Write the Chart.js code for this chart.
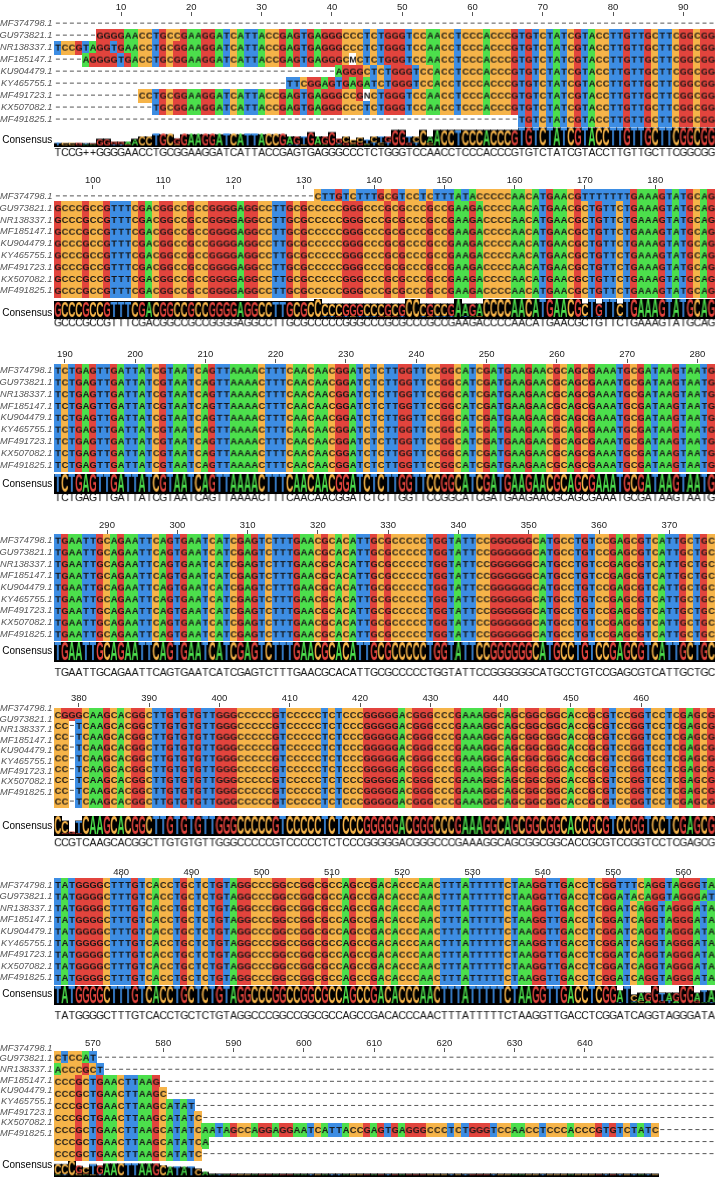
<!DOCTYPE html>
<html><head><meta charset="utf-8">
<script src="https://cdn.jsdelivr.net/npm/chart.js@4.4.1/dist/chart.umd.min.js"></script>
<style>
html,body{margin:0;padding:0;background:#fff;width:720px;height:1191px;overflow:hidden;position:relative;}
.blk{position:absolute;left:0;width:720px;}
canvas{display:block;}
</style></head><body>
<script>
// ---------------- DATA ----------------
const BLOCK_LEN = 94;
const SEQ_NAMES = ['MF374798.1','GU973821.1','NR138337.1','MF185147.1','KU904479.1','KY465755.1','MF491723.1','KX507082.1','MF491825.1'];
const RULER_TICKS = [10,20,30,40,50,60,70,80,90,100,110,120,130,140,150,160,170,180,190,200,210,220,230,240,250,260,270,280,290,300,310,320,330,340,350,360,370,380,390,400,410,420,430,440,450,460,480,490,500,510,520,530,540,550,560,570,580,590,600,610,620,630,640];

const gap = n => '-'.repeat(n);
const B1_MID  = 'TCTGGGTCCAACCTCCCACCCG';
const B1_TAIL = 'TGTCTATCGTACCTTGTTGCTTCGGCGG';
const B2_ALL  = 'GCCCGCCGTTTCGACGGCCGCCGGGGAGGCCTTGCGCCCCCGGGCCCGCGCCCGCCGAAGACCCCAACATGAACGCTGTTCTGAAAGTATGCAG';
const B3_ALL  = 'TCTGAGTTGATTATCGTAATCAGTTAAAACTTTCAACAACGGATCTCTTGGTTCCGGCATCGATGAAGAACGCAGCGAAATGCGATAAGTAATG';
const B4_ALL  = 'TGAATTGCAGAATTCAGTGAATCATCGAGTCTTTGAACGCACATTGCGCCCCCTGGTATTCCGGGGGGCATGCCTGTCCGAGCGTCATTGCTGC';
const B5_ALL  = 'CC-TCAAGCACGGCTTGTGTGTTGGGCCCCCGTCCCCCTCTCCCGGGGGACGGGCCCGAAAGGCAGCGGCGGCACCGCGTCCGGTCCTCGAGCG';
const B6_HEAD = 'TATGGGGCTTTGTCACCTGCTCTGTAGGCCCGGCCGGCGCCAGCCGACACCCAACTTTATTTTTCTAAGGTTGACCTCGG';
const B6_END  = 'ATCAGGTAGGGATA';

const MF374798 = [gap(94), gap(37)+'CTTGTCTTTGCGTCCTCTTTATACCCCCAACATGAACGTTTTTTTGAAAGTATGCAG', B3_ALL, B4_ALL,
  'CGGGCAAGCACGGCTTGTGTGTTGGGCCCCCGTCCCCCTCTCCCGGGGGACGGGCCCGAAAGGCAGCGGCGGCACCGCGTCCGGTCCTCGAGCG', B6_HEAD+'TTTCAGGTAGGGTA', 'CTCCAT'];
const GU973821 = [gap(6)+'GGGGAACCTGCCGAAGGATCATTACCGAGTGAGGGCCC'+B1_MID+B1_TAIL, B2_ALL, B3_ALL, B4_ALL, B5_ALL, B6_HEAD+'ATACAGGTAGGGAT', 'ACCCGCT'];
const NR138337 = ['TCCGTAGGTGAACCTGCGGAAGGATCATTACCGAGTGAGGGCCC'+B1_MID+B1_TAIL, B2_ALL, B3_ALL, B4_ALL, B5_ALL, B6_HEAD+B6_END, 'CCCGCTGAACTTAAG'];
const MF185147 = [gap(4)+'AGGGGTGACCTGCGGAAGGATCATTACCGAGTGAGGGCMC'+B1_MID+B1_TAIL, B2_ALL, B3_ALL, B4_ALL, B5_ALL, B6_HEAD+B6_END, 'CCCGCTGAACTTAAGC'];
const KU904479 = [gap(40)+'AGGGCTCTGGGTCCACCTCCCACCCG'+B1_TAIL, B2_ALL, B3_ALL, B4_ALL, B5_ALL, B6_HEAD+B6_END, 'CCCGCTGAACTTAAGCATAT'];
const KY465755 = [gap(33)+'TTCGGAGTGAGATCTGGGTCCACCTCCCACCCG'+B1_TAIL, B2_ALL, B3_ALL, B4_ALL, B5_ALL, B6_HEAD+B6_END, 'CCCGCTGAACTTAAGCATATC'];
const MF491723 = [gap(12)+'CCTGCGGAAGGATCATTACCGAGTGAGGGCCGNCTGGGTCCAACCTCCCACCCG'+B1_TAIL, B2_ALL, B3_ALL, B4_ALL, B5_ALL, B6_HEAD+B6_END,
  'CCCGCTGAACTTAAGCATATCAATAGCCAGGAGGAATCATTACCGAGTGAGGGCCCTCTGGGTCCAACCTCCCACCCGTGTCTATC'];
const KX507082 = [gap(14)+'TGCGGAAGGATCATTACCGAGTGAGGGCCC'+B1_MID+B1_TAIL, B2_ALL, B3_ALL, B4_ALL, B5_ALL, B6_HEAD+B6_END, 'CCCGCTGAACTTAAGCATATCA'];
const MF491825 = [gap(66)+B1_TAIL, B2_ALL, B3_ALL, B4_ALL, B5_ALL, B6_HEAD+B6_END, 'CCCGCTGAACTTAAGCATATC'];
const ALL_SEQS = [MF374798, GU973821, NR138337, MF185147, KU904479, KY465755, MF491723, KX507082, MF491825];

const CONSENSUS_TEXT = [
  'TCCG++GGGGAACCTGCGGAAGGATCATTACCGAGTGAGGGCCCTCTGGGTCCAACCTCCCACCCGTGTCTATCGTACCTTGTTGCTTCGGCGG',
  B2_ALL, B3_ALL, B4_ALL,
  'CCGTCAAGCACGGCTTGTGTGTTGGGCCCCCGTCCCCCTCTCCCGGGGGACGGGCCCGAAAGGCAGCGGCGGCACCGCGTCCGGTCCTCGAGCG',
  B6_HEAD+B6_END, ''];

// ---------------- STYLE / LAYOUT ----------------
const BASE_COLORS = {A:'#4CDF4C', C:'#F6B449', G:'#E2443D', T:'#3D8DE3'};
const FONT = '"Liberation Sans", Arial, Helvetica, sans-serif';
const LAYOUT = [
 {top:0,    h:173, axisH:16, tickPad:-1, rowY0:24,   pitch:12.6,  labY0:24,   labPitch:12.6,  logoTop:131.5, logoH:20, consY:147, textY:160},
 {top:173,  h:174, axisH:16, tickPad:-1, rowY0:23.7, pitch:12.4,  labY0:23.7, labPitch:12.4,  logoTop:132,   logoH:18, consY:146, textY:157},
 {top:347,  h:171, axisH:16, tickPad:-1, rowY0:24,   pitch:12.4,  labY0:24,   labPitch:12.4,  logoTop:133,   logoH:18, consY:143, textY:158},
 {top:518,  h:173, axisH:16, tickPad:-1, rowY0:23,   pitch:12.3,  labY0:23,   labPitch:12.3,  logoTop:130,   logoH:18, consY:139, textY:162},
 {top:691,  h:174, axisH:16, tickPad:-1, rowY0:24,   pitch:11.35, labY0:18,   labPitch:10.95, logoTop:131,   logoH:18, consY:141, textY:159},
 {top:865,  h:171, axisH:14, tickPad:-3, rowY0:20.3, pitch:12.2,  labY0:20.3, labPitch:12.2,  logoTop:127,   logoH:17, consY:135, textY:158},
 {top:1036, h:155, axisH:16, tickPad:-1, rowY0:22,   pitch:12.75, labY0:12,   labPitch:11.25, logoTop:131,   logoH:15, consY:136, textY:null}
];
const CW = 8;

function makeCanvas(w,h){const c=document.createElement('canvas');c.width=w;c.height=h;return c;}
const cache = {};
function cellSprite(ch, h){
  const key = ch+'|'+h; if (cache[key]) return cache[key];
  const c = makeCanvas(CW, h), g = c.getContext('2d');
  if (ch === '-') {
    g.fillStyle = '#555'; g.fillRect(2, Math.round(h/2)-1, 4, 1);
  } else {
    g.fillStyle = BASE_COLORS[ch] || '#ffffff'; g.fillRect(0,0,CW,h);
    g.fillStyle = '#151515'; g.font = 'bold 9.3px '+FONT; g.textAlign='center'; g.textBaseline='middle';
    g.fillText(ch, CW/2, h/2+0.5);
  }
  cache[key] = c; return c;
}
function textSprite(ch){
  const key = 'txt|'+ch; if (cache[key]) return cache[key];
  const c = makeCanvas(CW, 14), g = c.getContext('2d');
  g.fillStyle = '#111'; g.font = '10.5px '+FONT; g.textAlign='center'; g.textBaseline='middle';
  g.fillText(ch, CW/2, 7.5);
  cache[key] = c; return c;
}
function drawStretched(g, ch, x0, y0, w, h, color){
  g.save(); g.font = 'bold 40px '+FONT; g.textAlign='left'; g.textBaseline='alphabetic';
  const m = g.measureText(ch);
  const gl = m.actualBoundingBoxLeft, gr = m.actualBoundingBoxRight, ga = m.actualBoundingBoxAscent, gd = m.actualBoundingBoxDescent;
  g.translate(x0, y0); g.scale(w/(gl+gr), h/(ga+gd)); g.fillStyle = color; g.fillText(ch, gl, ga); g.restore();
}
function logoSprite(colChars, logoH){
  const counts = {A:0,C:0,G:0,T:0}; let n = 0;
  colChars.forEach(ch => { if (counts[ch] !== undefined) { counts[ch]++; n++; } });
  const c = makeCanvas(CW, Math.ceil(logoH)+2), g = c.getContext('2d');
  if (n === 0) return c;
  let H = 0; Object.keys(counts).forEach(k => { if (counts[k]) { const p = counts[k]/n; H -= p*Math.log2(p); } });
  const colH = logoH * (n/9) * ((2-H)/2);
  g.fillStyle = '#000'; g.fillRect(0, logoH-colH, CW, colH); g.fillRect(0, logoH, CW, 2);
  const order = Object.keys(counts).filter(k => counts[k]).sort((a,b) => counts[a]-counts[b]);
  let y = logoH;
  order.forEach(k => { const hh = colH*counts[k]/n; y -= hh; if (hh >= 0.8) drawStretched(g, k, 0.6, y, CW-1.2, hh, BASE_COLORS[k]); });
  return c;
}
function norm(s){ s = s || ''; if (s.length < BLOCK_LEN) s = s + gap(BLOCK_LEN - s.length); return s.slice(0, BLOCK_LEN); }

// ---------------- CHARTS ----------------
LAYOUT.forEach((L, b) => {
  const div = document.createElement('div'); div.className = 'blk'; div.style.top = L.top+'px'; div.style.height = L.h+'px';
  const cv = document.createElement('canvas'); cv.width = 720; cv.height = L.h; cv.style.width='720px'; cv.style.height = L.h+'px';
  div.appendChild(cv); document.body.appendChild(div);
  const x0 = b*BLOCK_LEN;
  const rows = ALL_SEQS.map(s => norm(s[b]));
  const cellH = Math.ceil(L.pitch)+1;
  const yOf = pix => (pix - L.rowY0)/L.pitch;
  const cells = [];
  rows.forEach((s, r) => { for (let c = 0; c < BLOCK_LEN; c++) cells.push({x:x0+c+1, y:r, sp:cellSprite(s[c], cellH)}); });
  const logo = [];
  const sh = Math.ceil(L.logoH)+2;
  for (let c = 0; c < BLOCK_LEN; c++) logo.push({x:x0+c+1, y:yOf(L.logoTop + sh/2), sp:logoSprite(rows.map(s => s[c]), L.logoH)});
  const txt = [];
  const ct = CONSENSUS_TEXT[b] || '';
  if (L.textY !== null) for (let c = 0; c < ct.length; c++) txt.push({x:x0+c+1, y:yOf(L.textY), sp:textSprite(ct[c])});
  const ds = d => ({data:d, pointStyle: ctx => (ctx.raw && ctx.raw.sp) || 'circle', pointRadius:1, pointHoverRadius:1, borderWidth:0, clip:false});
  const labTicks = SEQ_NAMES.map((n,i) => ({value:i})).concat([{value:(L.consY-L.labY0)/L.labPitch}]);
  new Chart(cv, {
    type:'scatter',
    data:{datasets:[ds(cells), ds(logo), ds(txt)]},
    options:{
      responsive:false, animation:false, devicePixelRatio:1, events:[],
      layout:{padding:{left:0,right:5,top:0,bottom:0}},
      plugins:{legend:{display:false}, tooltip:{enabled:false}},
      scales:{
        x:{type:'linear', position:'top', min:x0+0.5, max:x0+BLOCK_LEN+0.5,
           afterBuildTicks: s => { s.ticks = RULER_TICKS.filter(v => v > x0 && v <= x0+BLOCK_LEN).map(v => ({value:v})); },
           afterFit: s => { s.height = L.axisH; },
           ticks:{autoSkip:false, maxRotation:0, minRotation:0, padding:L.tickPad, color:'#222', font:{family:FONT, size:9.5}, callback: v => String(v)},
           grid:{display:true, drawOnChartArea:false, drawTicks:true, tickLength:4, color:'#555', lineWidth:1},
           border:{display:false}},
        y:{type:'linear', display:false, reverse:true, min:yOf(L.axisH), max:yOf(L.h)},
        yl:{type:'linear', axis:'y', position:'left', reverse:true, min:(L.axisH-L.labY0)/L.labPitch, max:(L.h-L.labY0)/L.labPitch,
           afterBuildTicks: s => { s.ticks = labTicks.map(t => ({value:t.value})); },
           afterFit: s => { s.width = 54.3; },
           ticks:{autoSkip:false, padding:2, callback:(v,i) => i < SEQ_NAMES.length ? SEQ_NAMES[i] : 'Consensus',
             font: ctx => ctx.index === SEQ_NAMES.length ? {family:FONT, size:10} : {family:FONT, size:9.3, style:'italic'},
             color: ctx => ctx.index === SEQ_NAMES.length ? '#000' : '#555'},
           grid:{display:false, drawTicks:false}, border:{display:false}}
      }
    }
  });
});
</script></body></html>
